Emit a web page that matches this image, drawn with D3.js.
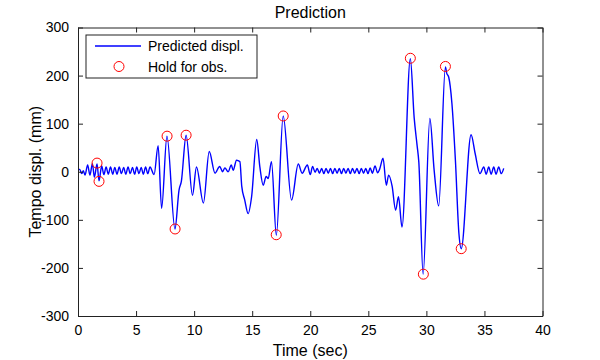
<!DOCTYPE html>
<html>
<head>
<meta charset="utf-8">
<script src="https://cdn.jsdelivr.net/npm/d3@7/dist/d3.min.js"></script>
<style>
  body { margin: 0; background: #fff; }
  svg { display: block; font-family: "Liberation Sans", Arial, sans-serif; }
</style>
</head>
<body>
<svg id="chart" width="600" height="360"></svg>
<script>
// ---- Data ----
const timeSec = [
  0.00, 0.15, 0.32, 0.46, 0.60, 0.83, 1.03, 1.24, 1.41, 1.64, 1.81, 2.04, 2.23,
  2.42, 2.61, 2.80, 2.99, 3.17, 3.36, 3.55, 3.74, 3.93, 4.12, 4.31, 4.50, 4.69, 4.88,
  5.06, 5.25, 5.44, 5.63, 5.82, 6.01, 6.20, 6.55, 6.90, 7.20, 7.66, 8.35, 8.70, 8.90,
  9.31, 9.86, 10.20, 10.80, 11.30, 11.80, 12.20, 12.45, 12.65, 12.93, 13.20, 13.36,
  13.65, 13.94, 14.10, 14.35, 14.65, 14.95, 15.39, 15.66, 15.95, 16.20, 16.38, 16.66,
  17.08, 17.67, 18.39, 18.97, 19.30, 19.75, 20.00, 20.20, 20.42,
  20.60, 20.79, 20.98, 21.17, 21.36, 21.55, 21.74, 21.93, 22.12, 22.31, 22.50, 22.69,
  22.88, 23.07, 23.26, 23.45, 23.64, 23.83, 24.02, 24.21, 24.40, 24.59, 24.78, 24.97,
  25.16, 25.35, 25.58, 25.80, 25.97, 26.27, 26.55, 26.75, 27.05, 27.35, 27.60, 27.90,
  28.62, 28.95, 29.20, 29.35, 29.72, 30.30, 30.67, 31.06, 31.64, 31.75, 31.92, 32.20,
  32.50, 32.80, 33.00, 33.85, 34.20, 34.62, 34.94, 35.15, 35.37, 35.58, 35.80, 36.00,
  36.23, 36.45, 36.66
];
const predictedDispl = [
  5, 5, -4, 2, -7, 14, -7, 17, -11, 16, -19, 12, -6,
  10, -5, 10, -5, 9, -5, 10, -4, 9, -5, 10, -4, 9, -5,
  10, -4, 9, -5, 10, -4, 10, -6, 54, -76, 74, -119, -38, -20,
  76, -49, 10, -65, 42, -3, 11, 0, 8, 0, 14, 3,
  24, 21, -30, -58, -87, -52, 67, 10, -28, -10, -14, 21,
  -132, 116, -59, 16, -3, 14, -6, 11, -1,
  7, -3, 7, -4, 7, -3, 7, -4, 7, -3, 7, -4,
  7, -3, 7, -4, 7, -3, 7, -4, 7, -3, 7, -4,
  8, -3, 12, -2, 5, 28, -28, -7, -30, -80, -52, -115,
  235, 112, 55, 20, -213, 111, 3, -71, 218, 205, 197, 142,
  24, -128, -160, 77, 38, -4, 10, -5, 10, -5, 10, -5,
  10, -4, 7
];
const obsTime  = [1.64, 1.81, 7.67, 8.36, 9.31, 17.07, 17.67, 28.62, 29.74, 31.64, 33.00];
const obsDispl = [18, -20, 74, -119, 76, -131, 116, 236, -213, 219, -160];
const xTicks = [0, 5, 10, 15, 20, 25, 30, 35, 40];
const yTicks = [-300, -200, -100, 0, 100, 200, 300];
const titleText = "Prediction";
const xLabel = "Time (sec)";
const yLabel = "Tempo displ. (mm)";
const legendLabels = ["Predicted displ.", "Hold for obs."];

// ---- Chart ----
const svg = d3.select("#chart");
const L = 78, R = 542.5, T = 27.5, B = 316;
const x = d3.scaleLinear().domain([0, 40]).range([L, R]);
const y = d3.scaleLinear().domain([-300, 300]).range([B, T]);
const axisColor = "#222";
const tickLen = 5;
const plainFmt = d => String(d);

svg.append("rect").attr("x", L).attr("y", T).attr("width", R - L).attr("height", B - T)
  .attr("fill", "#fff");

// Line
const line = d3.line()
  .x((d, i) => x(timeSec[i]))
  .y(d => y(d))
  .curve(d3.curveMonotoneX);
svg.append("path")
  .datum(predictedDispl)
  .attr("d", line)
  .attr("fill", "none")
  .attr("stroke", "#0000ff")
  .attr("stroke-width", 1.4);

// Observation circles
svg.append("g").selectAll("circle")
  .data(obsTime)
  .join("circle")
  .attr("cx", d => x(d))
  .attr("cy", (d, i) => y(obsDispl[i]))
  .attr("r", 5)
  .attr("fill", "none")
  .attr("stroke", "#ff0000")
  .attr("stroke-width", 1);

// Axes (MATLAB style, ticks inward, box)
const axB = d3.axisBottom(x).tickValues(xTicks).tickSizeInner(-tickLen).tickSizeOuter(0).tickPadding(9).tickFormat(plainFmt);
const axT = d3.axisTop(x).tickValues(xTicks).tickSizeInner(-tickLen).tickSizeOuter(0).tickFormat("");
const axLft = d3.axisLeft(y).tickValues(yTicks).tickSizeInner(-tickLen).tickSizeOuter(0).tickPadding(9).tickFormat(plainFmt);
const axRgt = d3.axisRight(y).tickValues(yTicks).tickSizeInner(-tickLen).tickSizeOuter(0).tickFormat("");

function style(g) {
  g.selectAll("path.domain").attr("stroke", axisColor).attr("stroke-width", 1);
  g.selectAll(".tick line").attr("stroke", axisColor).attr("stroke-width", 1);
  g.selectAll(".tick text").attr("fill", "#000").attr("font-size", 14)
    .attr("font-family", "Liberation Sans, Arial, sans-serif");
}
svg.append("g").attr("transform", `translate(0,${B})`).call(axB).call(style);
svg.append("g").attr("transform", `translate(0,${T})`).call(axT).call(style);
svg.append("g").attr("transform", `translate(${L},0)`).call(axLft).call(style);
svg.append("g").attr("transform", `translate(${R},0)`).call(axRgt).call(style);

// Title & labels
svg.append("text").attr("x", (L + R) / 2).attr("y", 18).attr("text-anchor", "middle")
  .attr("font-size", 16).attr("fill", "#000").text(titleText);
svg.append("text").attr("x", (L + R) / 2).attr("y", 356).attr("text-anchor", "middle")
  .attr("font-size", 16).attr("fill", "#000").text(xLabel);
svg.append("text").attr("transform", `translate(41,${(T + B) / 2}) rotate(-90)`)
  .attr("text-anchor", "middle").attr("font-size", 16).attr("fill", "#000").text(yLabel);

// Legend
const lg = svg.append("g");
lg.append("rect").attr("x", 86).attr("y", 35).attr("width", 171).attr("height", 43)
  .attr("fill", "#fff").attr("stroke", axisColor).attr("stroke-width", 1);
lg.append("line").attr("x1", 95).attr("x2", 141).attr("y1", 46).attr("y2", 46)
  .attr("stroke", "#0000ff").attr("stroke-width", 1.4);
lg.append("text").attr("x", 148).attr("y", 51).attr("font-size", 14).attr("fill", "#000").text(legendLabels[0]);
lg.append("circle").attr("cx", 119).attr("cy", 66.5).attr("r", 5)
  .attr("fill", "none").attr("stroke", "#ff0000").attr("stroke-width", 1);
lg.append("text").attr("x", 148).attr("y", 71.5).attr("font-size", 14).attr("fill", "#000").text(legendLabels[1]);
</script>
</body>
</html>
